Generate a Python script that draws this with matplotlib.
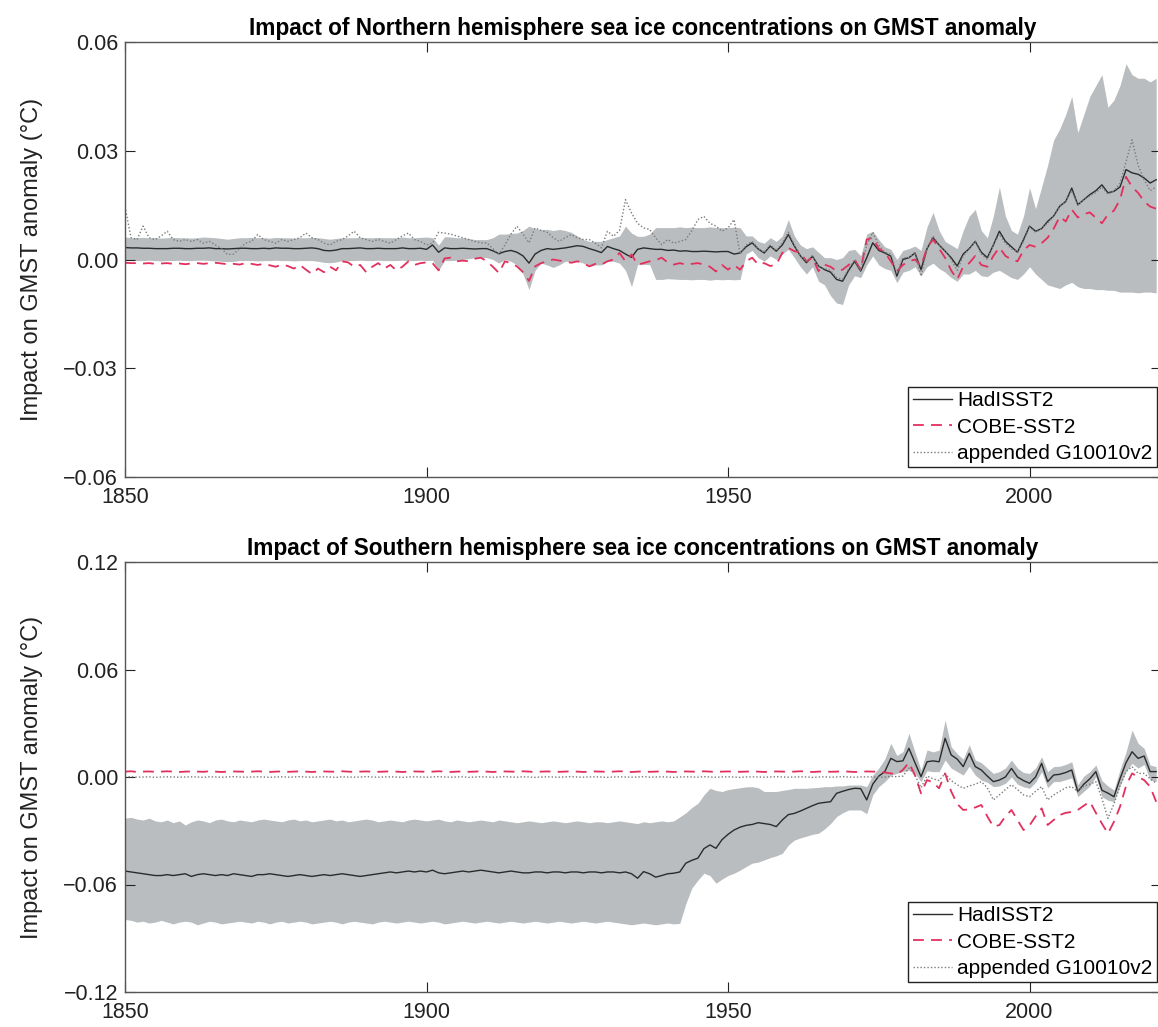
import matplotlib
matplotlib.use('Agg')
import matplotlib.pyplot as plt
import numpy as np

plt.rcParams['font.family'] = ['Liberation Sans', 'DejaVu Sans']

years = np.arange(1850, 2022)

# values in 1e-3 degC, one per year 1850-2021
nh_had = [
    3.3, 3.2, 3.2, 3.1, 3.1, 3.0, 3.0, 3.0, 3.1, 3.1,
    3.0, 3.0, 3.1, 3.1, 3.2, 3.0, 3.0, 2.9, 3.0, 3.1,
    3.1, 3.0, 3.0, 3.1, 3.0, 3.2, 3.1, 3.1, 3.0, 3.0,
    3.1, 3.2, 3.0, 2.5, 2.4, 2.6, 3.0, 3.0, 3.1, 3.2,
    3.0, 3.0, 3.1, 3.0, 3.0, 3.0, 3.2, 3.0, 3.0, 3.1,
    2.8, 4.0, 2.0, 3.2, 3.0, 3.0, 3.1, 3.0, 2.9, 3.0,
    3.0, 2.4, 1.6, 2.2, 2.5, 2.0, 1.0, -1.0, 1.5, 2.5,
    3.0, 2.8, 3.0, 3.2, 3.5, 3.8, 3.6, 3.0, 2.5, 1.9,
    3.6, 3.0, 2.5, 1.5, 0.6, 2.8, 3.2, 3.0, 2.8, 2.8,
    2.5, 2.6, 2.3, 2.4, 2.2, 2.2, 2.3, 2.2, 2.1, 2.2,
    2.2, 1.5, 1.8, 3.5, 4.6, 2.9, 1.8, 3.7, 2.3, 4.0,
    6.9, 3.7, 1.0, -0.9, 0.9, -1.8, -2.8, -3.5, -5.5, -6.0,
    -3.0, -0.5, -3.2, 0.5, 4.6, 2.5, 1.8, 0.9, -4.6, 0.0,
    0.5, 1.8, -2.8, 3.0, 6.0, 4.0, 2.3, 0.5, -1.8, 1.5,
    3.0, 5.0, 2.0, 0.5, 4.0, 7.8, 5.0, 3.5, 2.0, 5.5,
    9.2, 7.8, 8.5, 10.5, 12.0, 14.7, 16.0, 19.7, 15.1, 16.5,
    17.9, 19.0, 20.6, 18.4, 18.8, 20.0, 24.8, 23.9, 23.5, 22.5,
    21.1, 22.0]
nh_cobe = [
    -0.9, -1.0, -1.0, -1.1, -1.0, -1.2, -1.1, -1.0, -1.2, -1.1,
    -1.3, -1.1, -1.0, -1.2, -1.0, -0.9, -1.1, -1.3, -1.2, -1.4,
    -1.0, -1.2, -1.5, -1.2, -1.6, -2.0, -1.4, -1.8, -2.5, -1.5,
    -2.8, -4.0, -2.5, -3.5, -2.0, -3.0, -0.5, -0.8, -2.0, -1.5,
    -3.5, -2.0, -1.0, -2.5, -1.5, -3.0, -2.0, -0.5, -1.5, -1.0,
    -0.8, -1.0, -3.0, 0.3, 0.5, -0.5, -0.3, -0.5, 0.2, 0.5,
    -0.5, -2.0, -3.7, -0.5, -1.0, -1.9, -3.5, -5.9, -1.9, -1.0,
    -0.5, 0.0, -0.3, -0.5, -0.9, -0.5, -1.0, -1.9, -1.2, -1.4,
    -0.5, 0.0, 1.8, -0.5, 1.4, -1.4, -1.0, -0.5, -0.2, 0.5,
    -0.8, -1.4, -1.0, -1.4, -1.2, -1.0, -1.4, -2.0, -3.3, -1.5,
    -2.8, -1.5, -2.8, -0.5, 0.5, -1.4, -1.0, -1.8, -1.4, 1.8,
    3.2, 2.3, 2.0, -0.5, 0.5, -3.2, -1.4, -2.0, -3.2, -2.8,
    -1.5, 0.0, -2.8, 5.5, 6.0, 3.0, 2.0, -0.5, -3.2, -1.5,
    -0.5, 0.0, -1.8, 3.2, 5.5, 3.0, 0.5, -3.0, -5.5, -2.0,
    -1.0, 1.0, -1.5, -2.0, 1.0, 3.3, 1.0, 0.0, -0.5, 2.5,
    4.0, 3.5, 4.5, 6.0, 8.5, 11.8, 10.5, 13.8, 11.6, 12.5,
    13.0, 11.5, 10.0, 12.4, 13.5, 16.5, 22.8, 20.0, 18.4, 16.0,
    14.6, 14.0]
nh_g10 = [
    14.6, 6.0, 5.5, 9.2, 6.0, 5.5, 6.5, 7.8, 5.5, 5.0,
    5.5, 5.0, 5.5, 4.5, 5.0, 4.0, 3.0, 1.4, 1.5, 3.0,
    4.5, 5.0, 6.9, 5.5, 5.0, 4.5, 5.5, 5.0, 5.5, 6.0,
    7.3, 6.0, 5.5, 4.5, 4.0, 5.0, 5.5, 6.5, 7.8, 6.0,
    5.5, 5.0, 5.5, 5.0, 4.5, 5.5, 6.5, 7.3, 5.5, 5.0,
    4.0, 4.5, 7.5, 7.3, 7.0, 6.5, 6.0, 5.5, 5.0, 4.6,
    4.6, 3.0, 1.5, 4.0, 7.0, 9.2, 7.0, 4.6, 8.7, 8.0,
    7.5, 6.0, 5.0, 6.0, 6.9, 6.0, 5.5, 5.5, 4.5, 3.2,
    7.8, 6.4, 8.0, 16.5, 12.8, 10.0, 8.7, 8.3, 6.0, 4.1,
    5.5, 4.5, 5.0, 5.5, 8.0, 11.0, 11.9, 10.0, 9.2, 7.8,
    8.7, 11.0, 1.5, 4.0, 5.0, 3.0, 2.0, 4.0, 2.5, 4.5,
    7.5, 4.0, 1.0, -0.5, 1.0, -2.0, -2.5, -3.0, -5.0, -5.5,
    -2.5, 0.0, -3.0, 4.0, 7.5, 4.0, 2.0, 1.5, -4.0, 0.5,
    0.5, 2.0, -4.6, 3.0, 6.5, 4.0, 2.5, 0.0, -3.0, 1.0,
    3.0, 5.0, 1.5, 0.0, 4.0, 7.0, 4.5, 3.0, 2.0, 5.0,
    9.0, 7.5, 8.5, 10.0, 12.0, 14.5, 16.0, 19.0, 15.0, 16.5,
    17.5, 18.5, 20.0, 18.0, 19.0, 21.0, 27.0, 33.0, 26.0, 22.0,
    19.0, 20.0]
nh_hi = [
    6.2, 6.0, 6.0, 6.1, 6.0, 6.0, 5.9, 6.0, 6.1, 6.0,
    6.0, 5.9, 6.0, 6.2, 6.1, 6.0, 5.8, 5.6, 5.8, 6.0,
    6.0, 6.1, 6.0, 6.0, 5.9, 6.1, 6.0, 6.0, 5.9, 6.0,
    6.0, 6.1, 6.0, 5.8, 5.6, 5.8, 6.0, 6.0, 6.0, 6.1,
    6.0, 6.0, 6.1, 6.0, 6.0, 6.0, 6.2, 6.0, 6.0, 6.1,
    6.2, 6.0, 4.0, 6.3, 6.2, 6.0, 6.0, 5.8, 5.5, 5.5,
    5.5, 6.0, 7.0, 7.0, 7.2, 7.3, 8.0, 9.2, 8.5, 8.3,
    8.3, 8.0, 8.3, 8.0, 7.5, 6.5, 5.5, 5.0, 5.0, 5.0,
    5.5, 6.0, 6.5, 9.2, 7.3, 6.4, 6.4, 7.0, 8.8, 8.8,
    8.8, 8.8, 9.0, 8.8, 8.9, 8.8, 8.8, 9.0, 8.8, 8.8,
    8.8, 8.9, 8.8, 6.5, 6.5, 5.0, 4.5, 6.0, 5.0, 6.5,
    11.0, 6.5, 4.0, 3.0, 3.5, 2.0, 0.5, 0.5, 0.0, 0.5,
    2.5, 2.8, 1.0, 7.0, 7.8, 5.5, 3.5, 2.8, 0.0, 2.5,
    3.0, 3.7, 2.5, 9.0, 13.0, 8.0, 5.0, 4.0, 3.0, 8.0,
    12.0, 13.8, 8.0, 6.0, 12.0, 20.0, 12.0, 8.0, 7.0, 12.0,
    19.8, 14.0, 20.0, 26.0, 33.0, 36.0, 40.0, 45.0, 35.0, 40.0,
    45.0, 48.0, 51.0, 42.0, 44.0, 48.0, 54.0, 51.0, 50.0, 50.0,
    49.0, 50.0]
nh_lo = [
    -0.3, -0.2, -0.3, -0.3, -0.2, -0.3, -0.4, -0.3, -0.3, -0.2,
    -0.3, -0.3, -0.2, -0.2, -0.3, -0.4, -0.5, -0.6, -0.5, -0.3,
    -0.3, -0.3, -0.4, -0.3, -0.3, -0.2, -0.3, -0.3, -0.4, -0.3,
    -0.3, -0.3, -0.5, -0.8, -0.9, -0.7, -0.3, -0.3, -0.3, -0.2,
    -0.3, -0.3, -0.2, -0.3, -0.3, -0.3, -0.2, -0.3, -0.3, -0.2,
    -0.3, -0.2, -3.0, -0.3, -0.3, -0.2, 0.0, 0.2, 0.5, 0.5,
    0.5, 0.0, -1.0, 0.0, -0.5, -1.5, -4.0, -8.3, -3.0, -1.0,
    -1.5, -2.2, -1.5, -0.5, -0.5, -0.5, -1.0, -1.9, -1.5, -1.5,
    -0.5, -0.5, -1.0, -3.0, -7.5, -1.4, -1.4, -1.4, -5.5, -5.5,
    -5.3, -5.4, -5.5, -5.5, -5.6, -5.5, -5.5, -5.7, -5.5, -5.6,
    -5.5, -5.6, -5.5, 1.5, 2.5, 0.5, -0.5, 1.0, 0.0, 1.5,
    2.8, 0.5, -2.0, -4.0, -2.0, -6.0, -7.0, -10.0, -12.0, -12.4,
    -7.0, -4.5, -5.0, -1.5, 1.0, -1.5, -2.5, -3.0, -6.4, -3.5,
    -3.0, -2.0, -4.5, -2.0, -1.0, -2.5, -3.5, -5.0, -6.0, -4.0,
    -4.0, -3.0, -4.5, -4.7, -3.5, -3.0, -4.0, -5.0, -5.5, -4.0,
    -2.0, -4.0, -5.5, -7.0, -7.5, -8.0, -7.0, -6.3, -7.5, -8.0,
    -8.0, -8.3, -8.3, -8.5, -8.5, -9.0, -9.0, -9.0, -9.2, -9.0,
    -9.0, -9.2]

sh_had = [
    -52.5, -53.0, -53.5, -54.0, -54.5, -55.0, -55.0, -54.5, -55.0, -54.5,
    -54.0, -55.5, -54.5, -54.0, -54.5, -55.0, -54.5, -55.0, -54.0, -54.5,
    -55.0, -55.5, -54.5, -54.5, -54.0, -54.5, -55.0, -55.5, -55.0, -54.5,
    -55.0, -55.5, -55.0, -54.5, -55.0, -54.5, -54.0, -54.5, -55.0, -55.5,
    -55.0, -54.5, -54.0, -53.5, -53.0, -53.5, -53.0, -52.5, -53.0, -52.5,
    -53.0, -52.0, -53.5, -54.0, -53.5, -53.0, -52.5, -53.0, -52.5, -52.0,
    -52.5, -53.0, -53.5, -53.0, -52.5, -53.0, -53.5, -53.5, -53.0, -53.0,
    -53.5, -53.0, -53.0, -53.5, -53.0, -53.0, -53.5, -53.0, -53.0, -53.5,
    -53.0, -53.0, -53.5, -53.0, -54.0, -56.5, -52.8, -54.0, -55.9, -55.0,
    -54.0, -53.7, -53.0, -48.1, -46.5, -45.3, -40.0, -37.9, -39.8, -35.0,
    -32.0, -29.6, -28.0, -27.0, -26.5, -25.5, -26.0, -26.5, -27.7, -24.0,
    -21.0, -20.3, -19.0, -17.5, -16.0, -14.7, -14.2, -13.8, -9.1, -8.0,
    -7.0, -6.3, -6.5, -12.8, -4.0, 0.5, 3.0, 10.4, 8.6, 9.0,
    16.0, 8.0, 0.2, 8.5, 9.0, 8.5, 21.6, 12.3, 10.0, 5.8,
    13.2, 5.8, 3.9, 0.5, -2.6, -1.7, 0.0, 4.8, 0.0, -2.0,
    -3.5, 0.0, 7.6, -2.6, 1.1, 1.5, 2.5, 3.9, -8.2, -4.0,
    -1.0, 3.0, -7.4, -9.0, -11.0, -1.0, 8.0, 14.1, 10.4, 11.7,
    3.0, 3.0]
sh_cobe = [
    3.0, 3.2, 2.8, 3.0, 3.1, 2.9, 3.0, 3.2, 3.0, 2.8,
    3.0, 3.1, 3.0, 2.9, 3.2, 3.0, 2.8, 3.0, 3.1, 3.0,
    2.9, 3.0, 3.2, 3.0, 2.8, 3.0, 3.1, 2.9, 3.0, 3.2,
    3.0, 2.8, 3.0, 3.1, 3.0, 2.9, 3.2, 3.0, 2.8, 3.0,
    3.1, 3.0, 2.9, 3.0, 3.2, 3.0, 2.8, 3.0, 3.1, 3.0,
    2.9, 3.0, 3.2, 3.0, 2.8, 3.0, 3.1, 2.9, 3.0, 3.2,
    3.0, 2.8, 3.0, 3.1, 3.0, 2.9, 3.2, 3.0, 2.8, 3.0,
    3.1, 3.0, 2.9, 3.0, 3.2, 3.0, 2.8, 3.0, 3.1, 3.0,
    2.9, 3.0, 3.2, 3.0, 2.8, 3.0, 3.1, 2.9, 3.0, 3.2,
    3.0, 2.8, 3.0, 3.1, 3.0, 2.9, 3.2, 3.0, 2.8, 3.0,
    3.1, 3.0, 2.9, 3.0, 3.2, 3.0, 2.8, 3.0, 3.1, 3.0,
    2.9, 3.0, 3.2, 3.0, 2.8, 3.0, 3.1, 2.9, 3.0, 3.2,
    3.0, 2.8, 3.0, 3.1, 3.0, 2.9, 2.5, 2.0, 1.5, 4.0,
    8.0, 1.0, -9.1, -1.7, -3.0, -6.3, 2.0, -8.0, -15.0, -18.4,
    -18.0, -17.0, -15.6, -22.0, -27.7, -26.8, -22.0, -18.4, -24.0, -29.6,
    -27.0, -22.0, -17.5, -26.8, -24.0, -21.2, -20.0, -19.5, -18.4, -16.0,
    -13.8, -20.0, -26.0, -31.5, -25.0, -16.6, -5.0, 2.0, 0.0, -1.7,
    -5.4, -13.8]
sh_g10 = [
    0.0, 0.2, -0.1, 0.0, 0.1, -0.2, 0.0, 0.1, 0.0, -0.1,
    0.0, 0.1, 0.0, -0.2, 0.1, 0.0, -0.1, 0.0, 0.2, 0.0,
    -0.1, 0.0, 0.1, 0.0, -0.2, 0.0, 0.1, -0.1, 0.0, 0.2,
    0.0, -0.1, 0.0, 0.1, 0.0, -0.2, 0.1, 0.0, -0.1, 0.0,
    0.2, 0.0, -0.1, 0.0, 0.1, 0.0, -0.2, 0.0, 0.1, 0.0,
    -0.1, 0.0, 0.2, 0.0, -0.1, 0.0, 0.1, -0.2, 0.0, 0.1,
    0.0, -0.1, 0.0, 0.2, 0.0, -0.1, 0.1, 0.0, -0.2, 0.0,
    0.1, 0.0, -0.1, 0.0, 0.2, 0.0, -0.1, 0.0, 0.1, 0.0,
    -0.2, 0.0, 0.1, 0.0, -0.1, 0.0, 0.2, -0.1, 0.0, 0.1,
    0.0, -0.2, 0.0, 0.1, 0.0, -0.1, 0.2, 0.0, -0.1, 0.0,
    0.1, 0.0, -0.2, 0.0, 0.1, 0.0, -0.1, 0.0, 0.2, 0.0,
    -0.1, 0.0, 0.1, 0.0, -0.2, 0.0, 0.1, -0.1, 0.0, 0.2,
    0.0, -0.1, 0.0, 0.1, 0.0, -0.2, 0.0, 0.3, 0.2, 0.5,
    5.0, 1.0, -6.0, 0.5, -1.0, -2.0, 2.0, -2.0, -4.3, -6.3,
    -5.0, -4.0, -2.6, -6.0, -12.8, -10.0, -7.0, -4.3, -7.0, -10.0,
    -11.0, -8.0, -5.4, -12.8, -10.0, -8.0, -6.0, -5.4, -8.2, -5.0,
    -4.0, -2.6, -12.0, -23.1, -15.0, -5.0, 3.0, 5.8, 2.0, 2.0,
    -1.0, -3.5]
sh_hi = [
    -23.0, -22.5, -23.5, -24.0, -23.0, -24.5, -25.0, -24.0, -25.5, -24.5,
    -26.8, -25.0, -24.0, -24.5, -25.5, -24.0, -23.5, -24.5, -25.0, -24.0,
    -24.5, -25.0, -24.0, -23.5, -24.0, -24.5, -25.0, -24.0, -23.5, -24.5,
    -24.0, -25.0, -24.5, -24.0, -23.5, -24.5, -24.0, -25.0, -24.5, -24.0,
    -23.5, -24.0, -25.0, -24.5, -24.0, -24.5, -25.0, -24.0, -23.5, -24.0,
    -24.5, -24.0, -23.5, -24.5, -25.0, -24.0, -24.5, -25.0, -24.5, -24.0,
    -24.5, -25.0, -24.0, -24.5, -25.0, -25.5, -25.0, -24.5, -25.0, -25.5,
    -25.0, -24.5, -25.0, -25.5, -25.0, -24.5, -25.0, -25.5, -25.0, -25.0,
    -25.5, -25.0, -24.5, -25.0, -25.5, -26.0, -25.0, -25.5, -25.0, -24.5,
    -25.0, -24.5, -22.3, -20.0, -17.0, -14.7, -10.0, -6.3, -7.5, -8.1,
    -7.0, -6.5, -6.0, -5.5, -5.4, -6.0, -8.1, -8.1, -8.1, -7.5,
    -7.0, -6.3, -6.3, -6.3, -6.0, -5.8, -5.4, -5.4, -5.0, -5.0,
    -4.5, -4.5, -4.5, -5.4, 1.0, 5.0, 10.0, 18.8, 12.0, 14.1,
    24.4, 14.0, 3.9, 15.1, 14.0, 15.0, 31.8, 16.9, 13.0, 10.0,
    18.0, 9.5, 8.0, 5.0, 2.0, 3.0, 5.0, 9.5, 5.0, 2.5,
    2.0, 5.0, 11.3, 3.0, 5.8, 6.0, 7.0, 8.5, -4.3, 0.5,
    3.0, 6.7, -2.0, -5.0, -7.3, 4.0, 14.0, 26.2, 18.8, 16.0,
    6.7, 5.8]
sh_lo = [
    -79.5, -80.0, -81.0, -80.5, -81.5, -81.0, -80.0, -81.0, -82.0, -81.0,
    -80.5, -81.0, -82.5, -81.5, -80.5, -81.0, -82.0, -81.5, -81.0, -80.5,
    -81.0, -81.5, -80.5, -81.0, -82.0, -81.0, -80.5, -81.5, -81.0, -80.5,
    -81.0, -82.0, -81.5, -81.0, -80.5, -81.0, -82.0, -81.0, -80.5, -81.0,
    -81.5, -82.0, -81.0, -80.5, -81.0, -81.5, -81.0, -80.5, -81.0, -81.5,
    -81.0, -80.5, -81.0, -82.0, -81.5, -81.0, -80.5, -81.0, -81.5, -81.0,
    -80.5, -81.0, -81.5, -81.0, -80.5, -81.0, -81.5, -81.0, -80.5, -81.0,
    -81.5, -81.0, -80.5, -81.0, -81.5, -81.0, -80.5, -81.0, -81.5, -81.0,
    -80.5, -81.0, -81.5, -82.0, -82.5, -82.0, -81.5, -82.0, -82.5, -82.0,
    -81.5, -82.0, -81.7, -70.7, -62.0, -57.6, -53.7, -55.0, -59.3, -57.0,
    -55.0, -53.7, -52.0, -50.0, -48.1, -47.5, -46.3, -45.0, -44.0, -42.6,
    -38.0, -35.2, -34.0, -33.0, -32.0, -31.4, -29.0, -26.0, -22.1, -20.0,
    -18.4, -18.4, -18.4, -20.5, -10.0, -5.4, -2.6, 1.0, 2.0, 3.0,
    3.9, 2.0, -2.6, 3.5, 3.0, 3.0, 9.5, 5.0, 3.0, 1.1,
    6.0, 1.0, -1.7, -3.0, -5.4, -5.0, -3.5, 0.0, -4.0, -5.5,
    -6.3, -3.0, 3.0, -6.0, -2.6, -2.5, -1.5, -0.5, -11.0, -8.0,
    -5.0, 0.2, -11.0, -13.0, -13.8, -5.0, 3.0, 7.6, 5.0, 7.0,
    -1.7, -2.6]

labels = ['HadISST2', 'COBE-SST2', 'appended G10010v2']


def plot_panel(ax, title, had, cobe, g10, lo, hi, ylim, yticks):
    s = 1e-3
    ax.fill_between(years, np.array(lo) * s, np.array(hi) * s,
                    color='#b9bdbf', linewidth=0)
    ax.plot(years, np.array(had) * s, color='#2b2b2b', lw=1.0, label=labels[0])
    ax.plot(years, np.array(cobe) * s, color='#e2305e', lw=1.3,
            ls=(0, (6, 4)), label=labels[1])
    ax.plot(years, np.array(g10) * s, color='#7a7a7a', lw=1.0,
            ls=(0, (1, 1.5)), label=labels[2])
    ax.set_xlim(1850, 2021.8)
    ax.set_ylim(*ylim)
    ax.set_xticks([1850, 1900, 1950, 2000])
    ax.set_yticks(yticks)
    ax.set_yticklabels(['%.2f' % v if v >= 0 else '\u2212%.2f' % -v for v in yticks])
    ax.tick_params(direction='in', length=7, width=0.8, top=True, right=True,
                   labelsize=15.5, colors='#222222', pad=5)
    ax.tick_params(axis='x', pad=7.5)
    for sp in ax.spines.values():
        sp.set_color('#555555')
        sp.set_linewidth(1.0)
    ax.set_title(title, fontsize=16.3, fontweight='bold', pad=5)
    ax.set_ylabel('Impact on GMST anomaly (\u00b0C)', fontsize=17, color='#222222')
    ax.yaxis.set_label_coords(-0.079, 0.5)
    leg = ax.legend(loc='lower right', bbox_to_anchor=(0.996, 0.023),
                    borderaxespad=0, fancybox=False, framealpha=1,
                    edgecolor='#222222', fontsize=15, handlelength=1.9,
                    handletextpad=0.25, labelspacing=0.35, borderpad=0.2)
    leg.get_frame().set_linewidth(1.0)


fig = plt.figure(figsize=(11.58, 10.27), dpi=100)
ax1 = fig.add_axes([125 / 1158, 1 - 477 / 1027, 1036 / 1158, 435 / 1027])
ax2 = fig.add_axes([125 / 1158, 1 - 992 / 1027, 1036 / 1158, 430 / 1027])

plot_panel(ax1, 'Impact of Northern hemisphere sea ice concentrations on GMST anomaly',
           nh_had, nh_cobe, nh_g10, nh_lo, nh_hi, (-0.06, 0.06),
           [-0.06, -0.03, 0.0, 0.03, 0.06])
plot_panel(ax2, 'Impact of Southern hemisphere sea ice concentrations on GMST anomaly',
           sh_had, sh_cobe, sh_g10, sh_lo, sh_hi, (-0.12, 0.12),
           [-0.12, -0.06, 0.0, 0.06, 0.12])

fig.savefig('out.png', dpi=100)
